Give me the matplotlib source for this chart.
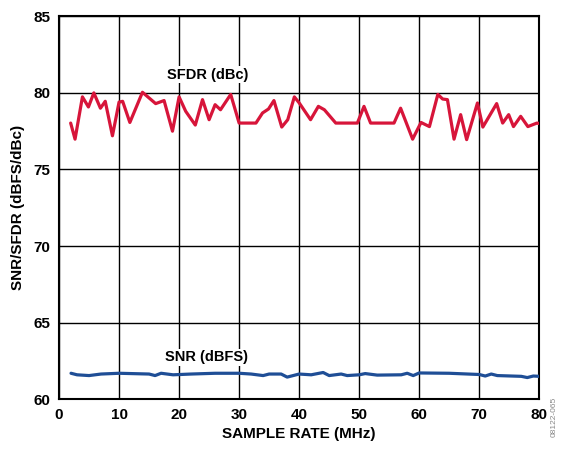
import matplotlib
matplotlib.use("Agg")
import matplotlib.pyplot as plt

plt.rcParams['font.family'] = ['Liberation Sans', 'DejaVu Sans']

sfdr_x = [1.94, 2.67, 3.9, 4.9, 5.8, 6.9, 7.7, 8.9, 10.0, 10.6, 11.8, 13.9, 16.1, 17.5, 18.9,
          20.0, 21.1, 22.7, 23.9, 25.0, 26.0, 26.9, 28.6, 30.0, 32.8, 33.9, 34.9, 35.8, 37.1,
          38.1, 39.2, 40.0, 41.9, 43.2, 44.2, 46.1, 49.7, 50.8, 51.9, 55.8, 56.9, 58.9, 60.3,
          61.7, 63.1, 63.9, 64.7, 65.8, 66.9, 67.9, 69.7, 70.6, 72.9, 73.9, 74.9, 75.7, 76.9,
          78.1, 79.6, 80.0]
sfdr_y = [78.03, 76.98, 79.74, 79.08, 80.0, 79.0, 79.45, 77.2, 79.4, 79.45, 78.07, 80.04, 79.3,
          79.5, 77.5, 79.74, 78.8, 77.9, 79.56, 78.25, 79.23, 78.9, 79.9, 78.03, 78.03, 78.69,
          78.95, 79.5, 77.77, 78.25, 79.74, 79.35, 78.25, 79.12, 78.9, 78.03, 78.03, 79.12, 78.03,
          78.03, 79.0, 76.98, 78.07, 77.8, 79.9, 79.6, 79.56, 76.98, 78.58, 76.95, 79.34, 77.77,
          79.3, 78.03, 78.58, 77.8, 78.47, 77.8, 78.03, 78.0]

snr_x = [2, 3, 5, 7, 10, 15, 16, 17, 19, 22, 26, 30, 32, 34, 35, 37, 38, 40, 42, 44, 45, 47,
         48, 50, 51, 53, 57, 58, 59, 60, 65, 70, 71, 72, 73, 77, 78, 79, 80]
snr_y = [61.7, 61.6, 61.55, 61.65, 61.7, 61.65, 61.55, 61.7, 61.6, 61.65, 61.7, 61.7, 61.65,
         61.55, 61.65, 61.65, 61.45, 61.65, 61.6, 61.75, 61.55, 61.65, 61.55, 61.6, 61.68, 61.58,
         61.6, 61.7, 61.55, 61.72, 61.7, 61.62, 61.52, 61.65, 61.55, 61.5, 61.42, 61.52, 61.5]

xticks = [0, 10, 20, 30, 40, 50, 60, 70, 80]
yticks = [60, 65, 70, 75, 80, 85]

fig = plt.figure(figsize=(5.61, 4.51), dpi=100)
ax = fig.add_axes([0.1052, 0.1146, 0.9613 - 0.1052, 0.9639 - 0.1146])

ax.plot(sfdr_x, sfdr_y, color='#D7153A', lw=2.3, solid_joinstyle='round',
        solid_capstyle='round', zorder=3)
ax.plot(snr_x, snr_y, color='#1F4E96', lw=2.3, solid_joinstyle='round',
        solid_capstyle='round', zorder=3)

ax.set_xlim(0, 80)
ax.set_ylim(60, 85)
ax.set_xticks(xticks)
ax.set_yticks(yticks)
ax.set_xticklabels([str(t) for t in xticks], fontsize=11, fontweight='bold')
ax.set_yticklabels([str(t) for t in yticks], fontsize=11, fontweight='bold')
ax.tick_params(length=0, pad=6)
ax.grid(True, color='black', lw=1.0)
for s in ax.spines.values():
    s.set_linewidth(1.5)

ax.set_xlabel('SAMPLE RATE (MHz)', fontsize=11, fontweight='bold', labelpad=4)
ax.set_ylabel('SNR/SFDR (dBFS/dBc)', fontsize=11, fontweight='bold', labelpad=6)

ax.text(24.7, 81.2, 'SFDR (dBc)', fontsize=10.5, fontweight='bold', ha='center', va='center',
        bbox=dict(facecolor='white', edgecolor='none', pad=1))
ax.text(24.5, 62.75, 'SNR (dBFS)', fontsize=10.5, fontweight='bold', ha='center', va='center',
        bbox=dict(facecolor='white', edgecolor='none', pad=1))

fig.text(0.988, 0.03, '08122-065', rotation=90, fontsize=6, color='#888888', ha='center', va='bottom')

fig.savefig('out.png', dpi=100)
